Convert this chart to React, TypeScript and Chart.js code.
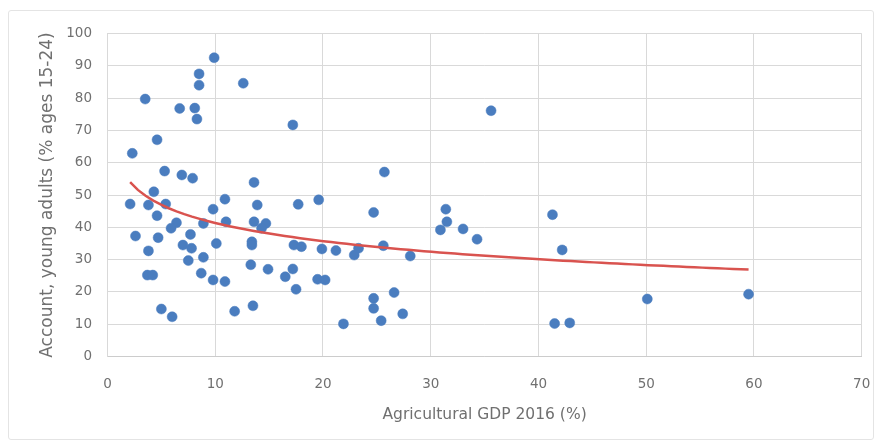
import React, { useEffect, useRef } from "react";
import { Chart, registerables } from "chart.js";

Chart.register(...registerables);

// Agricultural share of GDP in 2016 (%) per country
const AGRI_GDP = [
  9.9, 8.5, 8.5, 12.6, 3.5, 6.7, 8.1, 8.3, 4.6, 2.3, 5.3, 6.9, 7.9, 13.6, 4.3,
  2.1, 3.8, 5.4, 10.9, 13.9, 9.8, 4.6, 6.4, 5.9, 8.9, 11.0, 13.6, 14.7, 14.3,
  2.6, 4.7, 7.7, 7.0, 7.8, 10.1, 13.4, 13.4, 3.8, 8.9, 7.5, 13.3, 14.9, 3.7,
  4.2, 8.7, 9.8, 10.9, 5.0, 6.0, 11.8, 13.5,
  25.7, 17.7, 19.6, 24.7, 31.4, 31.5, 30.9, 17.3, 18.0, 19.9, 21.2, 22.9, 23.3,
  25.6, 28.1, 16.5, 17.2, 17.5, 19.5, 20.2, 24.7, 24.7, 26.6, 27.4, 25.4, 21.9,
  35.6, 33.0, 34.3, 41.3, 42.2, 41.5, 42.9, 50.1, 59.5, 17.2,
];

// Share of young adults (15-24) holding an account (%), same order
const YOUNG_ACCOUNT = [
  92.5, 87.5, 84.0, 84.6, 79.7, 76.8, 76.9, 73.5, 67.1, 62.9, 57.4, 56.2, 55.2, 53.9, 51.0,
  47.2, 46.9, 47.2, 48.7, 46.9, 45.6, 43.6, 41.4, 39.7, 41.2, 41.7, 41.7, 41.2, 39.7,
  37.3, 36.8, 37.8, 34.5, 33.5, 35.0, 35.5, 34.5, 32.7, 30.7, 29.7, 28.4, 27.0, 25.2,
  25.2, 25.8, 23.7, 23.2, 14.7, 12.3, 14.0, 15.7,
  57.1, 47.1, 48.5, 44.6, 45.6, 41.7, 39.2, 34.5, 34.0, 33.3, 32.8, 31.4, 33.5,
  34.3, 31.1, 24.7, 27.1, 20.8, 23.9, 23.7, 18.0, 14.9, 19.8, 13.2, 11.1, 10.1,
  76.1, 39.5, 36.3, 43.9, 33.0, 10.2, 10.4, 17.8, 19.3, 71.7,
];

const X_TITLE = "Agricultural GDP 2016 (%)";
const Y_TITLE = "Account, young adults (% ages 15-24)";

const X_MIN = 0;
const X_MAX = 70;
const X_STEP = 10;
const Y_MIN = 0;
const Y_MAX = 100;
const Y_STEP = 10;

// Least-squares fit of y = a + b * ln(x)
function logFit(xs: number[], ys: number[]) {
  const n = xs.length;
  let sx = 0, sy = 0, sxx = 0, sxy = 0;
  for (let i = 0; i < n; i++) {
    const lx = Math.log(xs[i]);
    sx += lx;
    sy += ys[i];
    sxx += lx * lx;
    sxy += lx * ys[i];
  }
  const b = (n * sxy - sx * sy) / (n * sxx - sx * sx);
  const a = (sy - b * sx) / n;
  return { a, b };
}

const TEXT_COLOR = "#707070";
const GRID_COLOR = "#d9d9d9";

const CANVAS_W = 900;
const CANVAS_H = 432;

export default function App() {
  const ref = useRef<HTMLCanvasElement>(null);

  useEffect(() => {
    if (!ref.current) return;
    const points = AGRI_GDP.map((x, i) => ({ x, y: YOUNG_ACCOUNT[i] }));
    const { a, b } = logFit(AGRI_GDP, YOUNG_ACCOUNT);
    const xmin = Math.min(...AGRI_GDP);
    const xmax = Math.max(...AGRI_GDP);
    const steps = 80;
    const trend: { x: number; y: number }[] = [];
    for (let i = 0; i <= steps; i++) {
      const x = xmin + ((xmax - xmin) * i) / steps;
      trend.push({ x, y: a + b * Math.log(x) });
    }

    const chart = new Chart(ref.current, {
      type: "scatter",
      data: {
        datasets: [
          {
            type: "line",
            data: trend,
            borderColor: "#d9534f",
            borderWidth: 2.5,
            pointRadius: 0,
            fill: false,
            tension: 0,
            order: 0,
          } as any,
          {
            data: points,
            backgroundColor: "#4a7dbf",
            borderColor: "#4a7dbf",
            borderWidth: 0.5,
            pointRadius: 5,
            order: 1,
          },
        ],
      },
      options: {
        responsive: false,
        animation: false,
        devicePixelRatio: 1,
        layout: { padding: { left: 0, top: 25.5, right: 46.3, bottom: 0 } },
        plugins: {
          legend: { display: false },
          tooltip: { enabled: false },
        },
        scales: {
          x: {
            type: "linear",
            min: X_MIN,
            max: X_MAX,
            ticks: {
              stepSize: X_STEP,
              color: TEXT_COLOR,
              font: { family: "DejaVu Sans", size: 13.5 },
              padding: 19.5,
            },
            grid: { color: GRID_COLOR, drawTicks: false },
            border: { color: "#cccccc" },
            title: {
              display: true,
              text: X_TITLE,
              color: TEXT_COLOR,
              font: { family: "DejaVu Sans", size: 15.5 },
              padding: { top: 0, bottom: 16 },
            },
            afterFit: (scale: any) => {
              scale.height = 83.5;
            },
          },
          y: {
            type: "linear",
            min: Y_MIN,
            max: Y_MAX,
            ticks: {
              stepSize: Y_STEP,
              color: TEXT_COLOR,
              font: { family: "DejaVu Sans", size: 13.5 },
              padding: 15.5,
            },
            grid: { color: GRID_COLOR, drawTicks: false },
            border: { color: GRID_COLOR },
            title: {
              display: true,
              text: Y_TITLE,
              color: TEXT_COLOR,
              font: { family: "DejaVu Sans", size: 17 },
              padding: { top: 29.8, bottom: 0 },
            },
            afterFit: (scale: any) => {
              scale.width = 99.5;
            },
          },
        },
      },
    });
    return () => chart.destroy();
  }, []);

  return (
    <div style={{ position: "relative", width: 866, height: 432, overflow: "hidden" }}>
      <div
        style={{
          position: "absolute",
          left: 0,
          top: 2,
          width: 864,
          height: 428,
          border: "1px solid #e4e4e4",
          borderRadius: 3,
        }}
      />
      <canvas
        ref={ref}
        width={CANVAS_W}
        height={CANVAS_H}
        style={{ position: "absolute", left: 0, top: 0 }}
      />
    </div>
  );
}
